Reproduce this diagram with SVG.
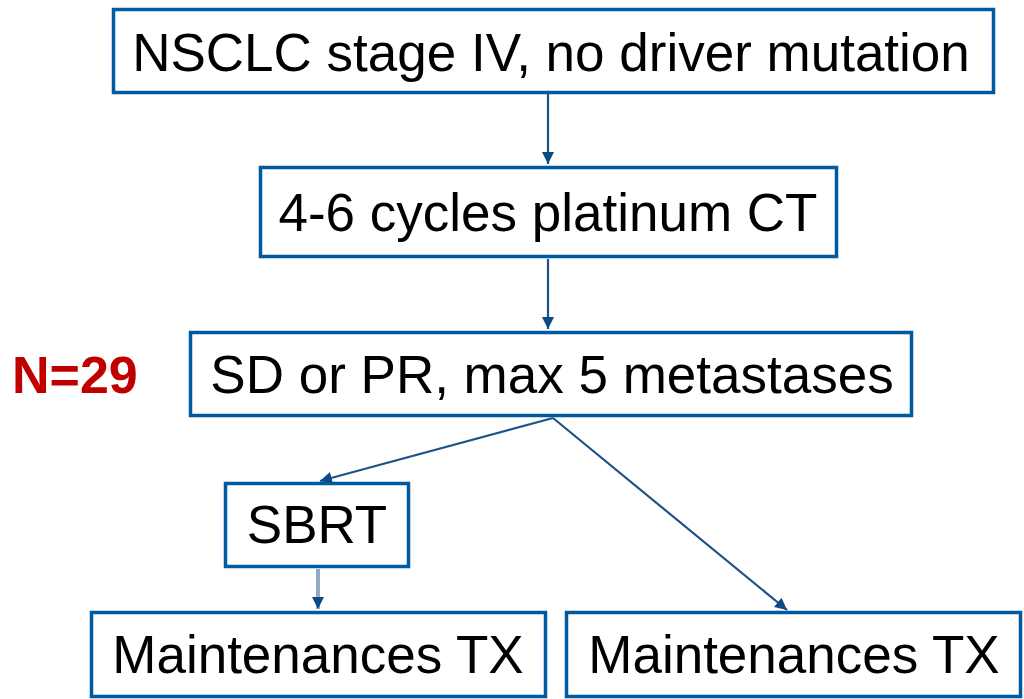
<svg xmlns="http://www.w3.org/2000/svg" width="1024" height="699" viewBox="0 0 1024 699">
  <style>
    .box { fill: #ffffff; stroke: #005AA0; stroke-width: 3.5; }
    .label { font-family: "Liberation Sans", Arial, sans-serif; font-size: 53px; fill: #000000; text-anchor: middle; }
    .edge { fill: none; stroke: #1F5289; stroke-width: 2.2; marker-end: url(#arrow); }
    .edge-soft { fill: none; stroke: #93A9C4; stroke-width: 4; marker-end: url(#arrow); }
    .count { font-family: "Liberation Sans", Arial, sans-serif; font-size: 52px; font-weight: bold; fill: #C00000; }
  </style>
  <defs>
    <marker id="arrow" viewBox="0 0 10 10" refX="10" refY="5" markerUnits="userSpaceOnUse" markerWidth="12" markerHeight="12" orient="auto">
      <path d="M0,0 L10,5 L0,10 z" fill="#0A4A85"/>
    </marker>
  </defs>

  <rect width="1024" height="699" fill="#ffffff"/>

  <g id="connectors">
    <line class="edge" x1="548" y1="94" x2="548" y2="164"/>
    <line class="edge" x1="548" y1="259" x2="548" y2="329"/>
    <line class="edge" x1="553" y1="418" x2="320" y2="481"/>
    <line class="edge" x1="553" y1="418" x2="787" y2="610"/>
    <line class="edge-soft" x1="318" y1="569" x2="318" y2="609"/>
  </g>

  <g id="node-start">
    <rect class="box" x="113.5" y="9.5" width="880" height="83"/>
    <text class="label" x="551" y="71">NSCLC stage IV, no driver mutation</text>
  </g>

  <g id="node-chemo">
    <rect class="box" x="260.5" y="167.5" width="576" height="89"/>
    <text class="label" x="548" y="231">4-6 cycles platinum CT</text>
  </g>

  <g id="node-response">
    <rect class="box" x="190.5" y="332.5" width="721" height="83"/>
    <text class="label" x="552" y="393">SD or PR, max 5 metastases</text>
  </g>

  <g id="node-count">
    <text class="count" x="12" y="393">N=29</text>
  </g>

  <g id="node-sbrt">
    <rect class="box" x="225.5" y="483.5" width="183" height="83"/>
    <text class="label" x="317" y="543">SBRT</text>
  </g>

  <g id="node-maint-left">
    <rect class="box" x="91.5" y="612.5" width="454" height="84"/>
    <text class="label" x="318" y="673">Maintenances TX</text>
  </g>

  <g id="node-maint-right">
    <rect class="box" x="566.5" y="612.5" width="454" height="84"/>
    <text class="label" x="794" y="673">Maintenances TX</text>
  </g>
</svg>
